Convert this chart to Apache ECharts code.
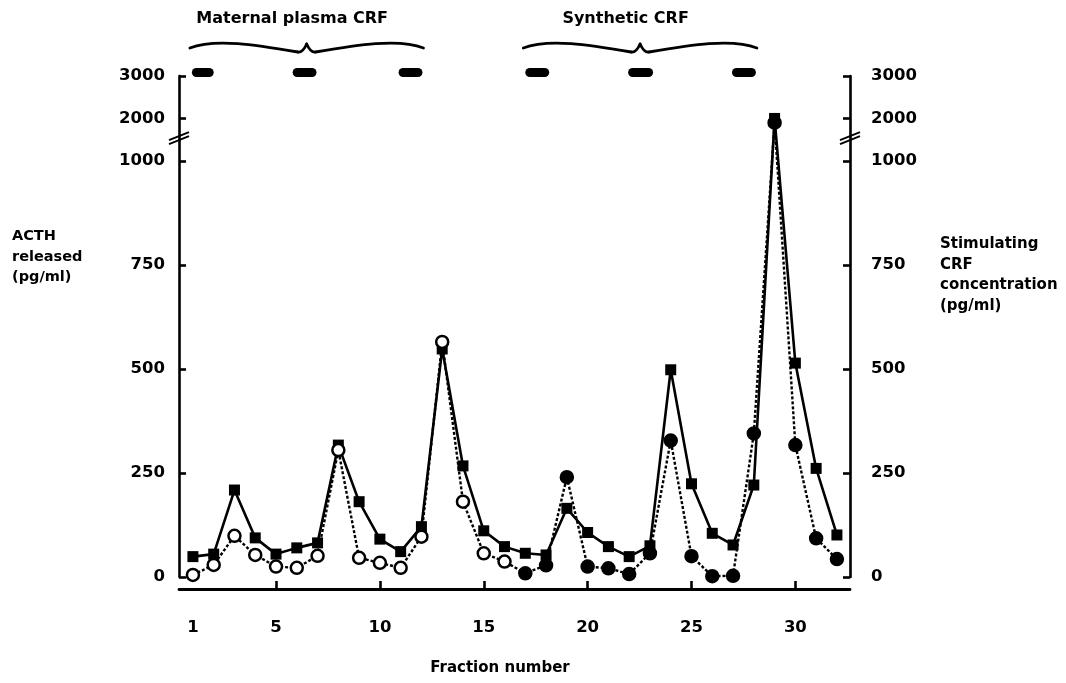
<!DOCTYPE html>
<html>
<head>
<meta charset="utf-8">
<script src="https://cdn.jsdelivr.net/npm/echarts@6/dist/echarts.min.js"></script>
<style>
  html, body { margin: 0; padding: 0; background: #fff; }
  #chart { width: 1066px; height: 683px; }
</style>
</head>
<body>
<div id="chart"></div>
<script>
// Fraction numbers of the chromatography run
const fractions = [1, 2, 3, 4, 5, 6, 7, 8, 9, 10, 11, 12, 13, 14, 15, 16,
                   17, 18, 19, 20, 21, 22, 23, 24, 25, 26, 27, 28, 29, 30, 31, 32];

// ACTH released (pg/ml), circles: open = maternal plasma CRF, filled = synthetic CRF
const acthReleased = [5, 29, 99, 53, 25, 22, 51, 305, 46, 34, 22, 97, 565, 181, 57, 37,
                      9, 28, 240, 25, 21, 7, 57, 328, 50, 2, 3, 345, 1900, 317, 93, 43];

// Stimulating CRF concentration (pg/ml), filled squares
const crfConcentration = [49, 55, 209, 94, 55, 70, 82, 317, 181, 91, 61, 121, 548, 267, 111, 73,
                          57, 53, 165, 107, 73, 49, 75, 498, 224, 105, 77, 221, 2000, 514, 261, 101];

// Fractions up to this one were stimulated with maternal plasma CRF
const maternalLastFraction = 16;

// Tick labels
const yTickValues = [0, 250, 500, 750, 1000, 2000, 3000];
const xTickLabels = [1, 5, 10, 15, 20, 25, 30];
const xTickMarks = [5, 10, 15, 20, 25, 30];

// Reference standard bars along the top (fraction ranges)
const barStart = [0.95, 5.8, 10.9, 17.0, 21.95, 26.95];
const barEnd   = [2.0, 6.95, 12.05, 18.15, 23.15, 28.1];
const groupNames = ['Maternal plasma CRF', 'Synthetic CRF'];
const groupBars  = [[0, 2], [3, 5]];

// Broken y axis: linear up to 1000, compressed above it
const BREAK_VALUE = 1000;
const UPPER_SCALE = 0.102;
const toAxis = v => (v <= BREAK_VALUE ? v : BREAK_VALUE + (v - BREAK_VALUE) * UPPER_SCALE);
const fromAxis = d => (d <= BREAK_VALUE ? d : BREAK_VALUE + (d - BREAK_VALUE) / UPPER_SCALE);
const yMax = toAxis(3000);
const breakMarkAt = 1057;

const FONT = 'DejaVu Sans';
const X_MIN = 0.33, X_MAX = 32.63;

const yAxisCommon = {
  type: 'value',
  min: 0,
  max: yMax,
  splitLine: { show: false },
  axisLine: { show: true, lineStyle: { color: '#000', width: 2.6 } },
  axisTick: { show: true, inside: true, length: 7, customValues: yTickValues.map(toAxis),
              lineStyle: { color: '#000', width: 2.6 } },
  axisLabel: {
    customValues: yTickValues.map(toAxis),
    formatter: v => String(Math.round(fromAxis(v))),
    color: '#000', fontFamily: FONT, fontWeight: 'bold', fontSize: 16.5
  }
};

const chart = echarts.init(document.getElementById('chart'), null, { renderer: 'canvas' });

chart.setOption({
  animation: false,
  backgroundColor: '#fff',
  grid: { left: 179, right: 216, top: 76, bottom: 106 },
  xAxis: {
    type: 'value',
    min: X_MIN,
    max: X_MAX,
    offset: 12,
    splitLine: { show: false },
    axisLine: { onZero: false, lineStyle: { color: '#000', width: 2.8 } },
    axisTick: { inside: true, length: 8, customValues: xTickMarks,
                lineStyle: { color: '#000', width: 2.6 } },
    axisLabel: { customValues: xTickLabels, margin: 30, color: '#000',
                 fontFamily: FONT, fontWeight: 'bold', fontSize: 16.5 }
  },
  yAxis: [
    Object.assign({}, yAxisCommon, { position: 'left',
      axisLabel: Object.assign({}, yAxisCommon.axisLabel, { margin: 14 }) }),
    Object.assign({}, yAxisCommon, { position: 'right',
      axisLabel: Object.assign({}, yAxisCommon.axisLabel, { margin: 21 }) })
  ],
  series: [
    {
      name: 'Stimulating CRF concentration',
      type: 'line',
      yAxisIndex: 0,
      data: fractions.map((f, i) => [f, toAxis(crfConcentration[i])]),
      symbol: 'rect',
      symbolSize: 11,
      itemStyle: { color: '#000' },
      lineStyle: { color: '#000', width: 2.6 },
      z: 3
    },
    {
      name: 'ACTH released',
      type: 'line',
      yAxisIndex: 0,
      data: fractions.map((f, i) => ({
        value: [f, toAxis(acthReleased[i])],
        itemStyle: { color: f <= maternalLastFraction ? '#fff' : '#000' }
      })),
      symbol: 'circle',
      symbolSize: 12,
      itemStyle: { borderColor: '#000', borderWidth: 2.5 },
      lineStyle: { color: '#000', width: 2.4, type: [3, 2] },
      z: 4
    },
    {
      name: 'Standards',
      type: 'custom',
      clip: false,
      data: barStart.map((s, i) => [s, barEnd[i], yMax]),
      renderItem: (params, api) => {
        const p0 = api.coord([api.value(0), api.value(2)]);
        const p1 = api.coord([api.value(1), api.value(2)]);
        return {
          type: 'rect',
          shape: { x: p0[0], y: p0[1] - 8, width: p1[0] - p0[0], height: 9, r: 4.5 },
          style: { fill: '#000' }
        };
      },
      z: 5
    }
  ]
});

// Decorations: axis break marks, group braces and titles
function textEl(text, x, y, size, align) {
  return {
    type: 'text', x: x, y: y, silent: true,
    style: { text: text, font: 'bold ' + size + 'px "' + FONT + '"', fill: '#000',
             textAlign: align || 'left', textVerticalAlign: 'middle',
             align: align || 'left', verticalAlign: 'middle', lineHeight: 20.5 }
  };
}

function breakMark(px, py) {
  return {
    type: 'group', x: px, y: py, silent: true,
    children: [
      { type: 'polygon', shape: { points: [[-10, 3], [10, -5], [10, -1], [-10, 7]] },
        style: { fill: '#fff' } },
      { type: 'line', shape: { x1: -10, y1: 3, x2: 10, y2: -5 },
        style: { stroke: '#000', lineWidth: 2 } },
      { type: 'line', shape: { x1: -10, y1: 7, x2: 10, y2: -1 },
        style: { stroke: '#000', lineWidth: 2 } }
    ]
  };
}

function curve(p0, c1, c2, p1) {
  const shape = { x1: p0[0], y1: p0[1], x2: p1[0], y2: p1[1], cpx1: c1[0], cpy1: c1[1] };
  if (c2) { shape.cpx2 = c2[0]; shape.cpy2 = c2[1]; }
  return { type: 'bezierCurve', silent: true, shape: shape,
           style: { stroke: '#000', lineWidth: 2.8, fill: null, lineCap: 'round' } };
}

function brace(x0, x1, y) {
  const xm = (x0 + x1) / 2;
  return {
    type: 'group', silent: true,
    children: [
      curve([x0, y + 1], [x0 + 25, y - 9], [xm - 50, y - 2], [xm - 9, y + 5]),
      curve([xm - 9, y + 5], [xm - 4, y + 6], null, [xm, y - 3]),
      curve([xm, y - 3], [xm + 4, y + 6], null, [xm + 9, y + 5]),
      curve([xm + 9, y + 5], [xm + 50, y - 2], [x1 - 25, y - 9], [x1, y + 1])
    ]
  };
}

const graphics = [];
const leftBreak = chart.convertToPixel({ gridIndex: 0 }, [X_MIN, breakMarkAt]);
const rightBreak = chart.convertToPixel({ gridIndex: 0 }, [X_MAX, breakMarkAt]);
graphics.push(breakMark(leftBreak[0], leftBreak[1]));
graphics.push(breakMark(rightBreak[0], rightBreak[1]));

groupBars.forEach((g, i) => {
  const a = chart.convertToPixel({ gridIndex: 0 }, [barStart[g[0]], yMax]);
  const b = chart.convertToPixel({ gridIndex: 0 }, [barEnd[g[1]], yMax]);
  graphics.push(brace(a[0] - 2, b[0] + 1, a[1] - 29));
  graphics.push(textEl(groupNames[i], (a[0] + b[0]) / 2 - 15, a[1] - 57, 16, 'center'));
});

graphics.push(textEl('ACTH\nreleased\n(pg/ml)', 12, 257, 14.5, 'left'));
graphics.push(textEl('Stimulating\nCRF\nconcentration\n(pg/ml)', 940, 275, 15, 'left'));
graphics.push(textEl('Fraction number', 500, 668, 15, 'center'));

chart.setOption({ graphic: graphics });
</script>
</body>
</html>
